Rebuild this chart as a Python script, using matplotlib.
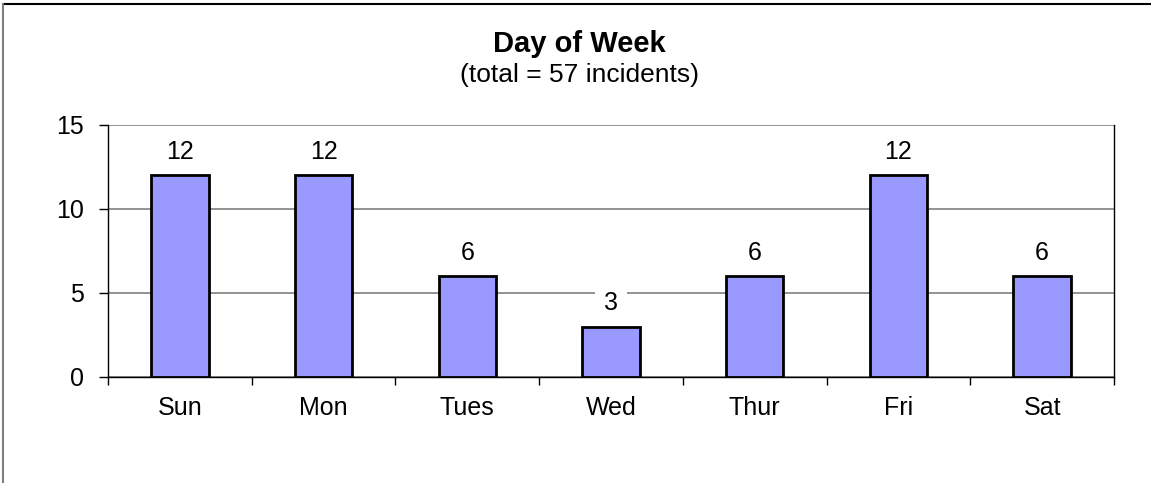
import matplotlib.pyplot as plt
from matplotlib.lines import Line2D

days = ["Sun", "Mon", "Tues", "Wed", "Thur", "Fri", "Sat"]
incidents = [12, 12, 6, 3, 6, 12, 6]
y_ticks = [0, 5, 10, 15]

plt.rcParams['font.family'] = ['Liberation Sans', 'DejaVu Sans']

W, H = 1151, 483
fig = plt.figure(figsize=(W/100, H/100), dpi=100)
ax = fig.add_axes([108/W, 1 - 377/H, (1114 - 108)/W, (377 - 125)/H])

x = range(len(days))
ax.bar(x, incidents, width=0.40, color="#9999FF", edgecolor="black", linewidth=2, zorder=3)
for xi, v in zip(x, incidents):
    ax.annotate(str(v), (xi, v), xytext=(0, 12), textcoords="offset points",
                ha="center", va="baseline", fontsize=18, zorder=4,
                bbox=dict(boxstyle="square,pad=0.35", fc="white", ec="none"))

ax.set_xlim(-0.5, len(days) - 0.5)
ax.set_ylim(0, 15)
ax.set_yticks(y_ticks)
ax.tick_params(axis="y", labelsize=18, length=6.5, width=1, direction="out", pad=11)
ax.yaxis.grid(True, color="#808080", linewidth=1.2, zorder=0)

# category labels centered, tick marks at boundaries
ax.set_xticks(list(x))
ax.set_xticklabels(days, fontsize=18)
ax.tick_params(axis="x", length=0, pad=14)
ax.set_xticks([i + 0.5 for i in range(-1, len(days))], minor=True)
ax.tick_params(axis="x", which="minor", length=6, width=1, direction="out")

ax.spines["top"].set_visible(False)
for s in ["left", "right", "bottom"]:
    ax.spines[s].set_color("black")
    ax.spines[s].set_linewidth(1)

fig.text(579/W, 1 - 52/H, "Day of Week", ha="center", va="baseline", fontsize=21, fontweight="bold")
fig.text(579/W, 1 - 82/H, "(total = 57 incidents)", ha="center", va="baseline", fontsize=19)

# chart frame (only top and left edges visible in the original crop)
fig.add_artist(Line2D([3/W, 1150/W], [1 - 4/H, 1 - 4/H], transform=fig.transFigure,
                      color="black", linewidth=1.5))
fig.add_artist(Line2D([3/W, 3/W], [0, 1 - 4/H], transform=fig.transFigure,
                      color="#808080", linewidth=1.5))

fig.savefig("out.png", dpi=100)
